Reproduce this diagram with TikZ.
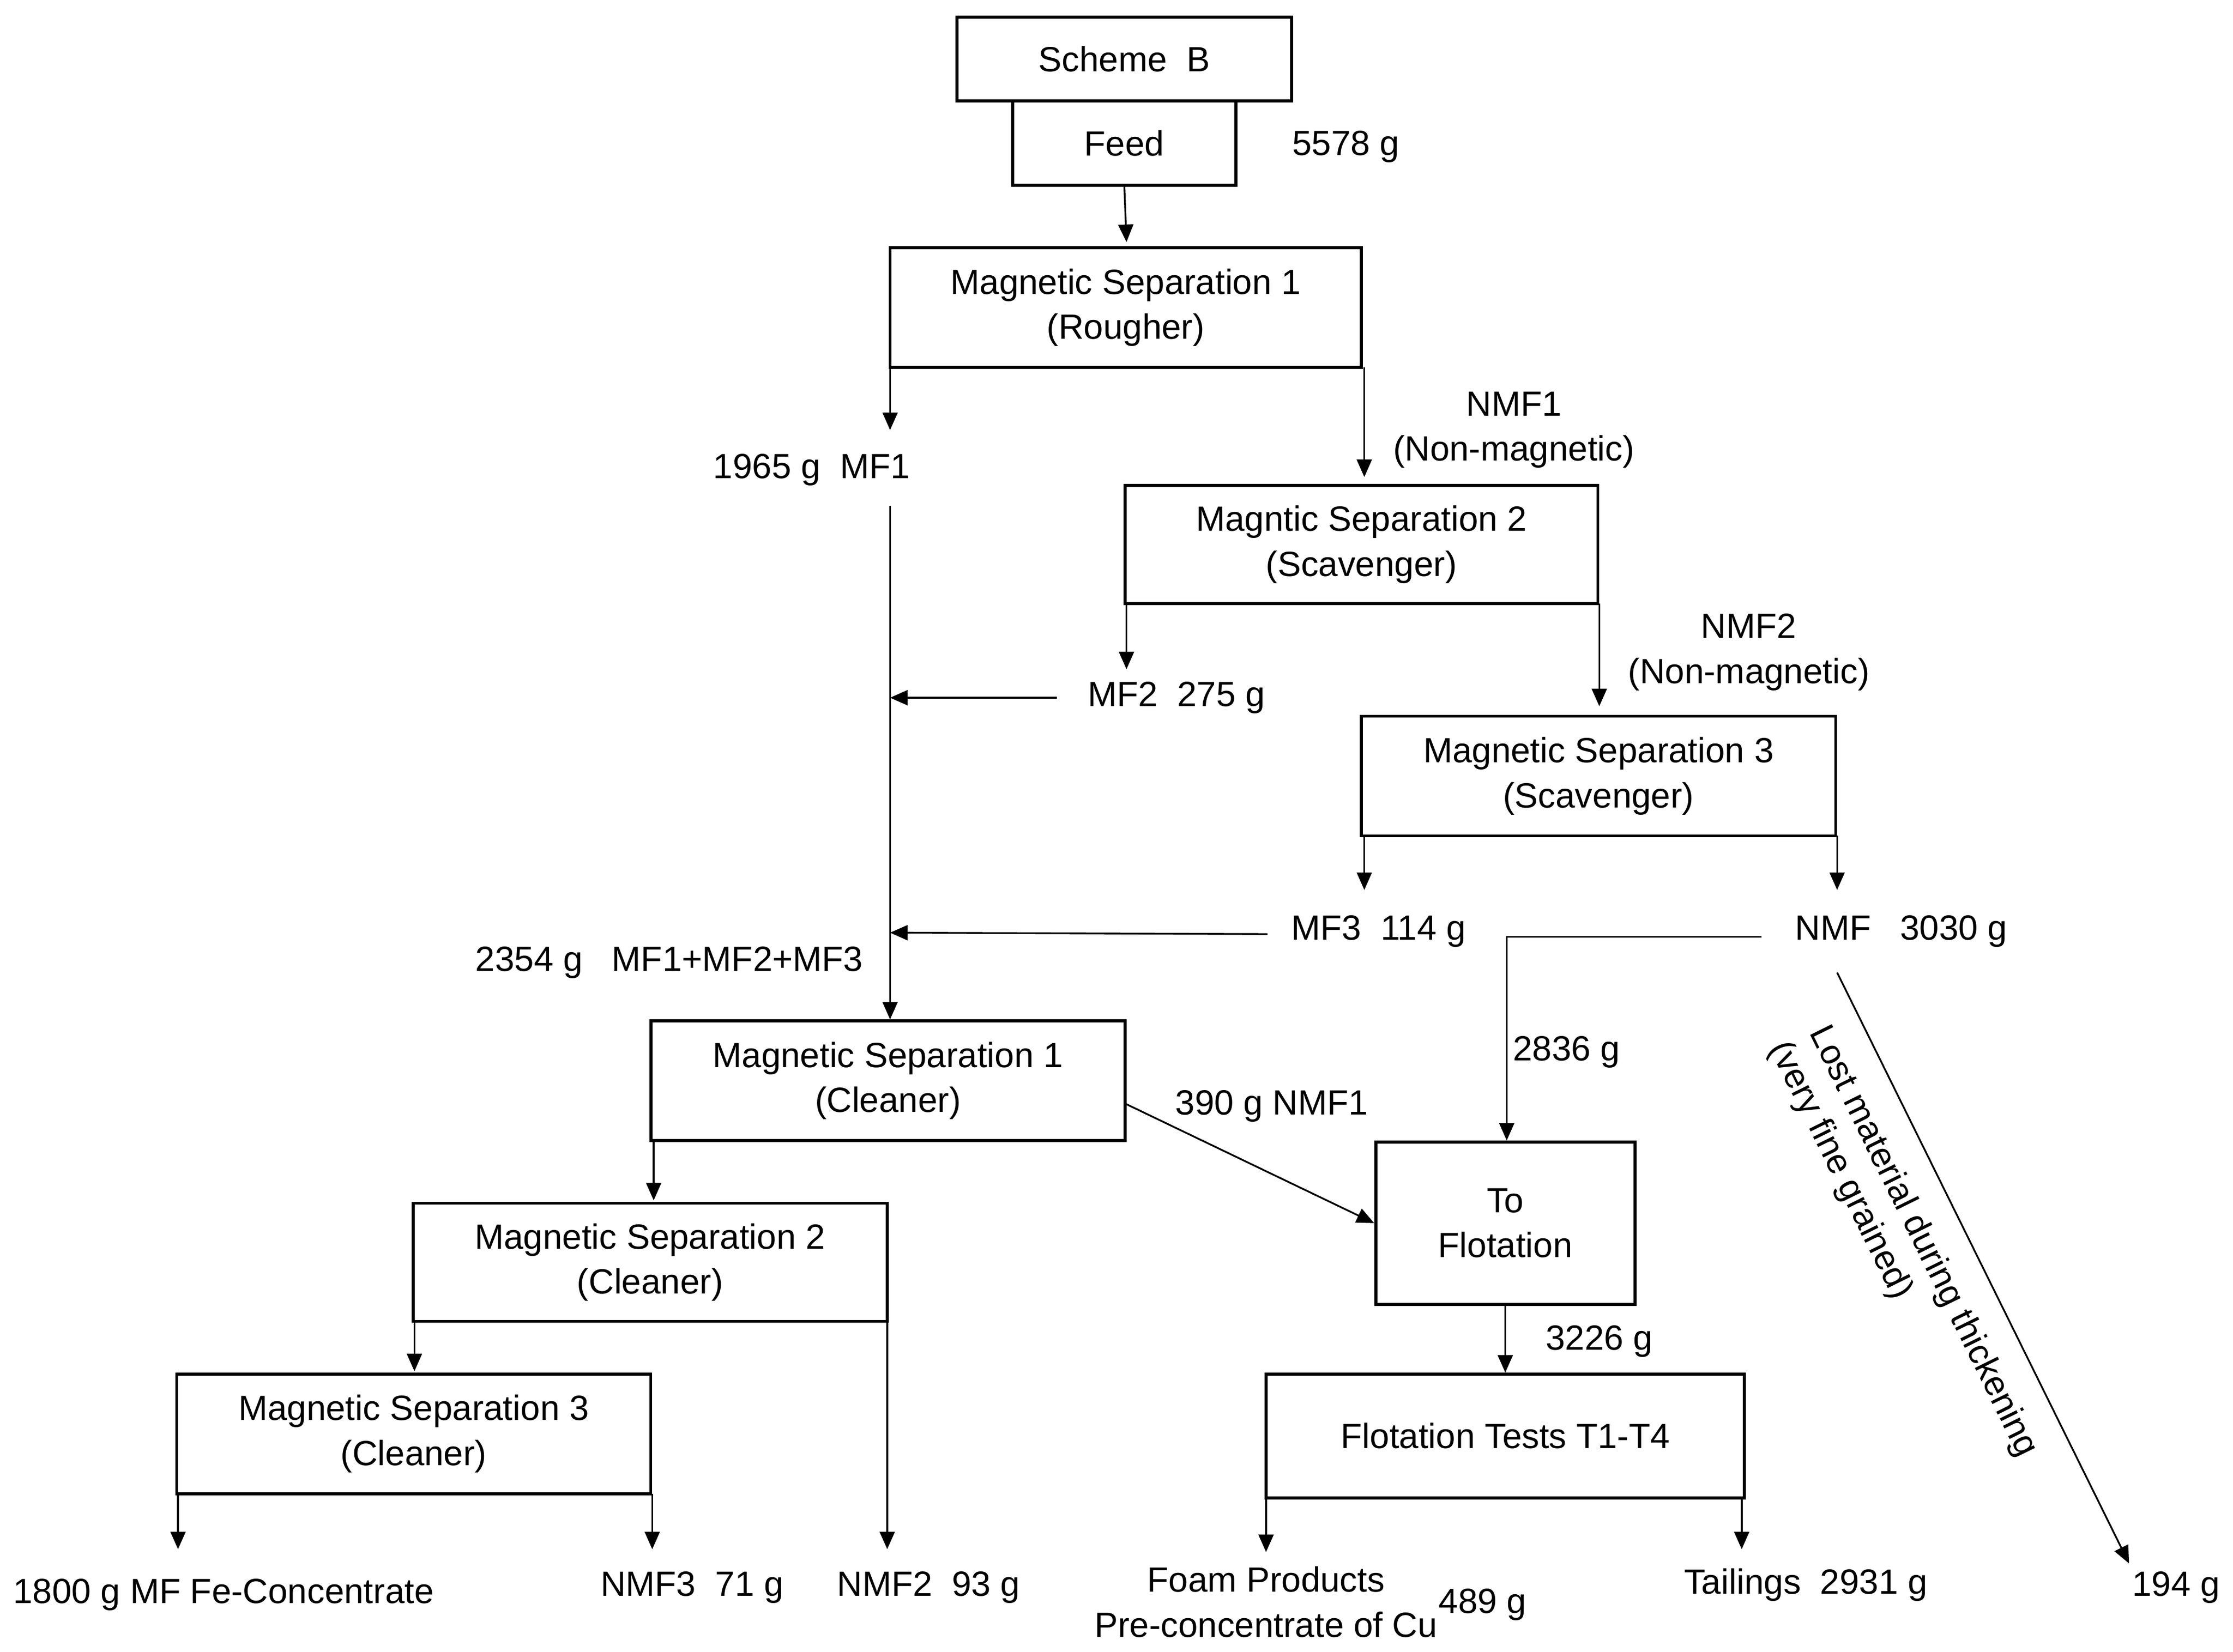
\documentclass[tikz,border=0pt]{standalone}
\usepackage{fontspec}
\setmainfont{Liberation Sans}
\usetikzlibrary{arrows.meta}
\begin{document}
\begin{tikzpicture}[x=0.02cm,y=-0.02cm,
  font=\fontsize{14}{18}\selectfont,
  box/.style={draw,line width=1.2pt,inner sep=0pt,align=center},
  lbl/.style={inner sep=1pt,align=center},
  arr/.style={line width=0.7pt,-{Triangle[length=7pt,width=6pt]}},
  ln/.style={line width=0.7pt}]
\useasboundingbox (0,0) rectangle (1568,1160);
\node[box,minimum width=4.7cm,minimum height=1.18cm] (scheme) at (789.5,41.5) {Scheme\ \ B};
\node[box,minimum width=3.14cm,minimum height=1.18cm] (feed) at (789.5,100.5) {Feed};
\node[box,minimum width=6.62cm,minimum height=1.68cm] (ms1r) at (790.5,216) {Magnetic Separation 1\\(Rougher)};
\node[box,minimum width=6.64cm,minimum height=1.66cm] (ms2s) at (956,382.5) {Magntic Separation 2\\(Scavenger)};
\node[box,minimum width=6.66cm,minimum height=1.68cm] (ms3s) at (1122.5,545) {Magnetic Separation 3\\(Scavenger)};
\node[box,minimum width=6.66cm,minimum height=1.68cm] (ms1c) at (623.5,759) {Magnetic Separation 1\\(Cleaner)};
\node[box,minimum width=3.64cm,minimum height=2.28cm] (tof) at (1057,859) {To\\Flotation};
\node[box,minimum width=6.72cm,minimum height=1.74cm] (ftest) at (1057,1008.5) {Flotation Tests T1-T4};
\node[box,minimum width=6.66cm,minimum height=1.66cm] (ms2c) at (456.5,886.5) {Magnetic Separation 2\\(Cleaner)};
\node[box,minimum width=6.66cm,minimum height=1.68cm] (ms3c) at (290.5,1007) {Magnetic Separation 3\\(Cleaner)};

\node[lbl] (lfeed) at (945,103) {5578 g};
\node[lbl] (lmf1) at (570,330) {1965 g\ \ MF1};
\node[lbl] (lnmf1) at (1063,302) {NMF1\\(Non-magnetic)};
\node[lbl] (lmf2) at (826,490) {MF2\ \ 275 g};
\node[lbl] (lnmf2) at (1228,458) {NMF2\\(Non-magnetic)};
\node[lbl] (lmf3) at (968,654) {MF3\ \ 114 g};
\node[lbl] (lnmf) at (1335,654) {NMF\ \ \ 3030 g};
\node[lbl] (lsum) at (470,676) {2354 g\ \ \ MF1+MF2+MF3};
\node[lbl] (l2836) at (1100,739) {2836 g};
\node[lbl] (l390) at (893,777) {390 g NMF1};
\node[lbl] (l3226) at (1123,942) {3226 g};
\node[lbl] (lfoam) at (889,1125) {Foam Products\\Pre-concentrate of Cu};
\node[lbl] (l489) at (1041,1127) {489 g};
\node[lbl] (ltail) at (1268,1113) {Tailings\ \ 2931 g};
\node[lbl] (l194) at (1528,1115) {194 g};
\node[lbl] (lfe) at (157,1120) {1800 g MF Fe-Concentrate};
\node[lbl] (lnmf3) at (486,1115) {NMF3\ \ 71 g};
\node[lbl] (lnmf2c) at (652,1115) {NMF2\ \ 93 g};
\node[lbl,rotate=-63.7] (llost) at (1350,872) {Lost material during thickening};
\node[lbl,rotate=-63.7] (lfine) at (1292,822) {(very fine grained)};

\coordinate (c1) at (625,302);
\coordinate (c2) at (958,335);
\coordinate (c3) at (791,470);
\coordinate (c4) at (1123,496);
\coordinate (c5) at (958,625);
\coordinate (c6) at (1290,625);
\coordinate (j1) at (625,490);
\coordinate (j2) at (625,655);
\coordinate (t1) at (1058,658);
\coordinate (e1) at (1495,1098);
\coordinate (e2) at (889,1090);
\coordinate (e3) at (1223,1088);
\coordinate (e4) at (125,1088);
\coordinate (e5) at (458,1088);
\coordinate (e6) at (623,1088);

\draw[arr] (feed.south) -- (791,170);
\draw[arr] (625,258) -- (c1);
\draw[arr] (958,258) -- (c2);
\draw[arr] (791,424) -- (c3);
\draw[arr] (1123,424) -- (c4);
\draw[arr] (958,587) -- (c5);
\draw[arr] (1290,587) -- (c6);
\draw[arr] (625,355) -- (ms1c.north -| 625,0);
\draw[arr] (742,490) -- (j1);
\draw[arr] (890,656) -- (j2);
\draw[arr] (1237,658) -- (t1) -- (tof.north -| t1);
\draw[arr] (1290,683) -- (e1);
\draw[arr] (790,775) -- (tof.west);
\draw[arr] (tof.south) -- (ftest.north);
\draw[arr] (889,1052) -- (e2);
\draw[arr] (1223,1052) -- (e3);
\draw[arr] (459,801) -- (459,843);
\draw[arr] (623,928) -- (e6);
\draw[arr] (291,928) -- (291,963);
\draw[arr] (125,1049) -- (e4);
\draw[arr] (458,1049) -- (e5);
\end{tikzpicture}
\end{document}
